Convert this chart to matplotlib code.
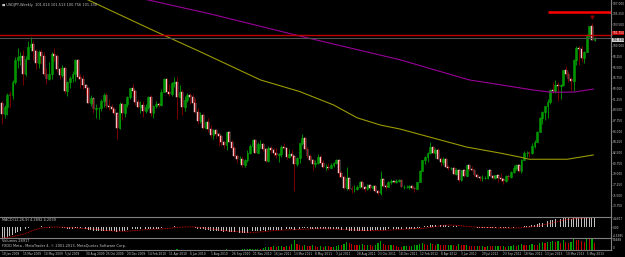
import matplotlib
matplotlib.use("Agg")
import matplotlib.pyplot as plt
import numpy as np
import pandas as pd

# USDJPY weekly bars, first bar = week of 18 Jan 2009 (open = previous close)
first_open = 90.70
close = [
    88.80, 89.90, 92.00, 91.90, 94.00, 97.60, 98.20, 98.30, 95.30, 97.90,
    99.80, 100.30, 99.20, 97.10, 99.00, 98.40, 95.30, 94.60, 95.30, 98.60,
    98.40, 96.20, 95.20, 96.40, 92.60, 94.10, 94.70, 95.40, 97.60, 94.90,
    94.50, 93.60, 93.00, 90.70, 91.40, 89.60, 89.80, 89.80, 90.90, 92.00,
    90.10, 89.90, 89.70, 88.90, 86.50, 90.50, 89.00, 90.40, 91.60, 93.00,
    92.60, 90.80, 90.00, 90.30, 89.30, 89.90, 91.60, 88.90, 90.10, 90.50,
    90.30, 92.50, 94.60, 92.40, 92.10, 93.90, 94.10, 91.60, 92.50, 90.00,
    91.10, 91.90, 91.60, 90.60, 89.20, 87.70, 88.60, 86.60, 87.50, 86.40,
    85.40, 86.20, 85.60, 85.20, 84.30, 83.80, 85.80, 84.30, 83.30, 82.00,
    81.40, 81.40, 80.40, 81.20, 82.50, 83.60, 84.60, 82.50, 83.90, 83.90,
    83.00, 81.10, 83.20, 82.90, 82.50, 82.10, 82.20, 83.40, 83.20, 81.70,
    82.30, 81.90, 80.60, 81.60, 84.00, 84.90, 83.10, 81.90, 81.20, 80.60,
    80.80, 81.70, 80.80, 80.20, 80.20, 80.00, 80.40, 80.80, 81.20, 79.10,
    78.50, 76.70, 78.40, 76.60, 76.50, 76.60, 76.80, 77.60, 76.80, 76.50,
    77.10, 76.70, 77.00, 76.20, 75.80, 78.20, 77.00, 76.90, 77.70, 77.90,
    77.60, 77.80, 78.00, 76.90, 76.90, 76.90, 77.00, 76.70, 76.60, 77.60,
    79.50, 81.20, 81.80, 82.40, 83.40, 82.40, 82.90, 81.50, 80.90, 81.50,
    80.20, 79.90, 79.90, 79.00, 79.60, 78.00, 79.60, 78.60, 80.40, 79.80,
    79.60, 78.80, 78.50, 78.30, 78.30, 78.30, 79.60, 78.70, 78.30, 78.90,
    78.40, 78.20, 77.90, 78.70, 78.50, 79.30, 79.90, 80.40, 79.50, 81.30,
    82.40, 82.50, 82.40, 83.50, 84.20, 85.90, 88.10, 89.20, 90.10, 90.80,
    92.70, 92.60, 93.50, 93.40, 93.60, 96.00, 95.30, 94.50, 94.20, 97.60,
    99.60, 99.50, 98.00, 99.00, 101.60, 103.20, 101.014, 101.330,
]
high = [
    90.90, 90.30, 92.20, 92.60, 94.40, 98.10, 99.70, 99.00, 99.30, 98.40,
    100.70, 101.44, 100.70, 99.40, 99.30, 99.50, 98.90, 96.30, 97.40, 98.90,
    99.70, 98.60, 96.50, 96.80, 96.50, 94.30, 95.10, 95.80, 97.80, 97.80,
    95.30, 95.20, 93.60, 93.30, 92.00, 91.50, 90.50, 90.00, 91.30, 92.30,
    92.20, 91.20, 90.50, 89.90, 89.00, 90.80, 90.60, 90.50, 91.70, 93.10,
    93.80, 92.70, 91.30, 90.90, 91.00, 90.50, 91.80, 92.00, 90.30, 91.00,
    90.70, 92.90, 94.70, 94.70, 93.70, 94.00, 94.90, 94.80, 93.60, 92.90,
    91.70, 92.30, 92.20, 92.10, 91.40, 89.80, 89.20, 88.90, 87.70, 88.10,
    87.00, 86.40, 86.30, 85.80, 85.30, 84.40, 85.90, 85.90, 84.50, 83.50,
    82.30, 81.90, 81.90, 81.50, 82.90, 83.90, 84.80, 84.70, 84.20, 84.50,
    84.00, 83.30, 83.60, 83.60, 83.20, 83.20, 82.40, 83.70, 84.00, 83.20,
    83.00, 82.90, 82.00, 81.80, 84.10, 85.50, 85.00, 83.40, 82.30, 81.50,
    81.30, 82.20, 82.10, 81.30, 80.60, 80.80, 80.80, 81.00, 81.40, 81.20,
    79.40, 78.80, 80.20, 78.40, 77.00, 77.10, 77.10, 77.90, 77.80, 76.80,
    77.30, 77.10, 77.20, 77.20, 76.40, 79.55, 78.20, 77.30, 77.80, 78.10,
    77.90, 78.10, 78.20, 78.10, 77.20, 77.20, 77.20, 77.20, 76.80, 77.60,
    79.60, 81.30, 81.90, 82.60, 84.20, 83.50, 83.30, 83.20, 81.80, 81.80,
    81.60, 80.40, 80.20, 80.20, 79.90, 79.60, 79.70, 79.70, 80.50, 80.60,
    80.30, 79.80, 79.10, 78.70, 78.80, 78.60, 79.70, 79.60, 78.80, 78.90,
    78.90, 79.20, 78.20, 78.80, 78.90, 79.50, 80.40, 80.70, 80.50, 81.50,
    82.80, 82.80, 82.80, 84.00, 84.60, 86.00, 88.40, 89.30, 90.20, 91.20,
    92.90, 94.10, 94.40, 94.00, 93.70, 96.10, 96.70, 95.90, 94.90, 97.80,
    99.90, 99.90, 99.90, 99.10, 101.90, 103.30, 103.74, 101.513,
]
low = [
    87.10, 88.10, 88.60, 90.00, 91.30, 93.70, 96.30, 96.90, 93.50, 95.10,
    97.80, 99.20, 97.60, 96.20, 96.40, 97.00, 95.00, 93.70, 94.40, 94.50,
    97.50, 95.70, 94.60, 94.80, 92.20, 91.70, 93.00, 94.10, 94.20, 94.60,
    93.00, 92.90, 91.90, 90.60, 90.20, 88.90, 88.20, 88.00, 89.30, 90.00,
    89.80, 89.40, 89.20, 88.60, 84.80, 86.40, 87.90, 88.40, 89.90, 91.30,
    91.80, 90.30, 89.80, 88.90, 88.30, 88.90, 89.70, 88.50, 88.20, 89.80,
    89.90, 90.10, 92.40, 92.20, 91.80, 91.80, 93.20, 88.00, 91.50, 88.70,
    89.30, 90.80, 90.50, 90.40, 88.90, 87.10, 87.30, 86.30, 86.30, 85.90,
    85.00, 84.70, 84.90, 83.60, 83.80, 83.20, 82.90, 84.20, 83.10, 81.70,
    80.90, 80.80, 80.20, 80.20, 80.90, 82.20, 82.80, 82.50, 82.40, 83.30,
    82.80, 80.90, 81.00, 82.40, 82.00, 81.60, 81.00, 81.70, 83.00, 81.50,
    81.60, 81.50, 76.25, 80.30, 80.80, 83.80, 82.90, 81.60, 81.00, 79.60,
    80.10, 80.70, 80.60, 80.00, 79.70, 79.70, 79.90, 80.20, 80.60, 78.50,
    78.30, 76.60, 76.30, 76.30, 75.95, 76.10, 76.40, 76.70, 76.60, 76.10,
    76.30, 76.30, 76.60, 76.10, 75.56, 75.60, 76.90, 76.60, 76.80, 77.40,
    77.50, 77.50, 77.70, 76.90, 76.60, 76.70, 76.50, 76.50, 76.00, 76.50,
    77.60, 79.50, 80.60, 80.90, 82.30, 82.20, 81.60, 81.50, 80.30, 80.50,
    80.10, 79.60, 79.60, 79.00, 78.80, 77.60, 77.90, 78.50, 78.60, 79.40,
    79.50, 78.70, 78.30, 77.90, 77.90, 78.10, 78.20, 78.60, 78.20, 78.10,
    77.60, 77.80, 77.40, 77.60, 78.00, 78.40, 79.20, 79.60, 79.30, 79.20,
    81.20, 81.70, 81.80, 82.30, 83.30, 84.20, 85.80, 87.10, 87.80, 88.10,
    90.50, 92.30, 92.20, 91.00, 91.20, 93.40, 95.10, 94.10, 92.60, 92.60,
    96.90, 96.80, 97.40, 97.10, 98.90, 101.50, 100.90, 100.756,
]
volume = [
    1200, 1500, 1400, 1300, 1800, 2100, 1900, 1600, 1700, 1500,
    1800, 1900, 1500, 1400, 1300, 1200, 1600, 1400, 1100, 1500,
    1300, 1200, 1100, 1000, 1400, 1300, 1100, 1000, 1300, 1200,
    1100, 1000, 1100, 1400, 1200, 1300, 1100, 1000, 1200, 1100,
    1000, 900, 1000, 1100, 1600, 1500, 1200, 1000, 900, 800,
    1100, 1200, 1100, 1000, 1200, 1000, 1100, 1300, 1100, 1000,
    900, 1100, 1300, 1200, 1000, 1100, 1000, 2200, 1800, 1900,
    1500, 1300, 1200, 1100, 1200, 1300, 1100, 1200, 1000, 1100,
    1200, 1300, 1100, 1200, 1400, 1200, 2600, 1700, 1800, 1600,
    1900, 2100, 2400, 2600, 3200, 3800, 4500, 5200, 5600, 4800,
    9000, 11000, 14000, 12000, 16000, 13000, 15000, 18000, 14000, 17000,
    16000, 24000, 42000, 26000, 20000, 18000, 22000, 17000, 15000, 19000,
    16000, 14000, 15000, 13000, 17000, 15000, 12000, 14000, 16000, 22000,
    20000, 26000, 34000, 28000, 24000, 20000, 19000, 22000, 25000, 21000,
    23000, 20000, 18000, 22000, 30000, 38000, 24000, 21000, 19000, 23000,
    20000, 18000, 14000, 12000, 15000, 17000, 16000, 18000, 19000, 22000,
    26000, 30000, 24000, 22000, 28000, 25000, 21000, 24000, 22000, 20000,
    19000, 21000, 23000, 20000, 18000, 24000, 22000, 19000, 21000, 18000,
    17000, 16000, 18000, 15000, 16000, 14000, 18000, 17000, 15000, 16000,
    17000, 15000, 16000, 14000, 15000, 17000, 19000, 18000, 20000, 24000,
    22000, 20000, 21000, 25000, 23000, 21000, 30000, 34000, 29000, 32000,
    35000, 38000, 33000, 36000, 31000, 40000, 34000, 30000, 32000, 48000,
    44000, 41000, 36000, 35000, 46000, 45000, 50488, 28917,
]

# moving averages: bar index -> value
ma_yellow_idx = [20, 33, 57.5, 76, 99, 114, 127, 136, 145, 152.5, 165, 178, 191, 198.5, 202, 216.5, 221.5, 226.5]
ma_yellow_val = [109.8, 107.5, 102.6, 99.0, 94.4, 92.5, 90.3, 88.2, 87.0, 86.35, 84.9, 83.4, 82.4, 81.75, 81.4, 81.4, 81.75, 82.1]
ma_purple_idx = [40, 56, 80, 114, 152.5, 179, 191, 203.5, 210, 219, 226.5]
ma_purple_val = [109.05, 107.5, 105.2, 101.6, 97.7, 94.4, 93.6, 92.75, 92.4, 92.4, 92.9]

red_level = 101.75
top_level = 105.60
top_level_start = 209
bid = close[-1]
ema_seed = (92.3, 96.9)   # EMA12 / EMA26 carried in from 2008
date_ticks = pd.date_range("2009-01-18", periods=29, freq="56D")

BG = "black"
FG = "#c8c8c8"
GRID = "#808080"
FS = 2.5
FS_AX = 2.1
plt.rcParams["font.family"] = ["Liberation Sans Narrow", "DejaVu Sans"]

W, H = 625, 257
fig = plt.figure(figsize=(W / 100, H / 100), dpi=100, facecolor=BG)


def px_axes(top, bottom):
    a = fig.add_axes([0, 1 - bottom / H, 611 / W, (bottom - top) / H])
    a.set_facecolor(BG)
    for s in ["left", "bottom", "top"]:
        a.spines[s].set_visible(False)
    a.spines["right"].set_color(GRID)
    a.spines["right"].set_linewidth(0.8)
    a.yaxis.tick_right()
    a.tick_params(axis="y", colors=GRID, labelcolor=FG, labelsize=FS_AX, length=1.0, width=0.5, pad=0.3)
    a.tick_params(axis="x", bottom=False, labelbottom=False)
    return a


n = len(close)
x = np.arange(n)
c = np.array(close)
o = np.array([first_open] + close[:-1])
h = np.array(high)
l = np.array(low)
up = c >= o
xlim = (-0.8, 233.3)

# main price panel
ax = px_axes(0, 216)
ax.vlines(x[up], l[up], h[up], color="#00a000", lw=0.6)
ax.vlines(x[~up], l[~up], h[~up], color="#8b0000", lw=0.6)
ax.bar(x[up], c[up] - o[up], bottom=o[up], width=0.7, color="#006400", edgecolor="#00b000", lw=0.4)
ax.bar(x[~up], o[~up] - c[~up], bottom=c[~up], width=0.7, color="#ffb0b8", edgecolor="#ffe0e4", lw=0.3)
ax.plot(ma_yellow_idx, ma_yellow_val, color="#9a9a00", lw=0.8)
ax.plot(ma_purple_idx, ma_purple_val, color="#990099", lw=0.8)
ax.axhline(red_level, color="#c00000", lw=1.0)
ax.axhline(bid, color="#505050", lw=0.8)
ax.hlines(top_level, top_level_start, xlim[1], color="#ff0000", lw=1.8)
ax.plot([n - 2], [h[-2] + 0.9], marker="v", ms=2, color="#8b0000", ls="none")
ax.set_xlim(xlim)
ax.set_ylim(72.1, 107.5)
yt = np.arange(73.75, 107.5, 1.75)
ax.set_yticks(yt)
ax.set_yticklabels([f"{v:.3f}" if abs(v - red_level) > 1 else "" for v in yt])
for lev, col, tc, va in [(red_level, "#c00000", "white", "bottom"), (bid, "#d0d0d0", "black", "top")]:
    ax.text(1.002, lev, f"{lev:.3f}", transform=ax.get_yaxis_transform(), fontsize=FS_AX,
            color=tc, va=va, ha="left",
            bbox=dict(boxstyle="square,pad=0.05", fc=col, ec="none"))
ax.text(0.004, 0.985, f"\u25a0 USDJPY,Weekly  {o[-1]:.3f} {h[-1]:.3f} {l[-1]:.3f} {c[-1]:.3f}",
        transform=ax.transAxes, fontsize=FS, color=FG, va="top", ha="left")

# MACD panel
ema12 = [ema_seed[0]]
ema26 = [ema_seed[1]]
for v in close:
    ema12.append(ema12[-1] + 2 / 13 * (v - ema12[-1]))
    ema26.append(ema26[-1] + 2 / 27 * (v - ema26[-1]))
macd = np.array(ema12[1:]) - np.array(ema26[1:])
signal = pd.Series(macd).rolling(9, min_periods=1).mean().values
ax_m = px_axes(217, 238)
ax_m.spines["top"].set_visible(True)
ax_m.spines["top"].set_color(GRID)
ax_m.bar(x, macd, width=0.35, color="#c0c0c0")
ax_m.plot(x, signal, color="#ff0000", lw=0.6, ls=(0, (1, 1)))
ax_m.set_xlim(xlim)
mmin, mmax = macd.min(), macd.max()
ax_m.set_ylim(mmin, mmax)
ax_m.set_yticks([mmax, 0, mmin])
ax_m.set_yticklabels([f"{mmax:.4f}", "0.00", f"{mmin:.4f}"])
mlabels = ax_m.get_yticklabels()
mlabels[0].set_va("top")
mlabels[2].set_va("bottom")
ax_m.text(0.004, 0.93, f"MACD(12,26,9) {macd[-1]:.4f} {signal[-1]:.4f}",
          transform=ax_m.transAxes, fontsize=FS, color=FG, va="top", ha="left")

# volume panel
vol = np.array(volume)
vcol = ["#00a000" if i > 0 and vol[i] > vol[i - 1] else "#c00000" for i in range(n)]
ax_v = px_axes(238, 250)
ax_v.spines["top"].set_visible(True)
ax_v.spines["top"].set_color(GRID)
ax_v.spines["bottom"].set_visible(True)
ax_v.spines["bottom"].set_color(GRID)
ax_v.bar(x, vol, width=0.45, color=vcol)
ax_v.set_xlim(xlim)
ax_v.set_ylim(0, vol.max())
ax_v.set_yticks([vol.max(), 0])
ax_v.set_yticklabels([f"{vol.max()}", "0"])
vlabels = ax_v.get_yticklabels()
vlabels[0].set_va("top")
vlabels[1].set_va("bottom")
ax_v.text(0.004, 0.95, f"Volumes {vol[-1]}", transform=ax_v.transAxes,
          fontsize=FS, color=FG, va="top", ha="left")
ax_v.text(0.004, 0.50, "FXDD Meta - MetaTrader 4, \u00a9 2001-2013, MetaQuotes Software Corp.",
          transform=ax_v.transAxes, fontsize=FS, color=FG, va="top", ha="left")
ax_v.set_xticks(np.arange(0, 8 * len(date_ticks), 8))
ax_v.set_xticklabels([f"{d.day} {d.strftime('%b %Y')}" for d in date_ticks], ha="left")
ax_v.tick_params(axis="x", bottom=True, labelbottom=True, colors=GRID, labelcolor=FG,
                 labelsize=FS_AX, length=1.0, width=0.5, pad=0.5)

fig.savefig("out.png", dpi=100, facecolor=BG)
